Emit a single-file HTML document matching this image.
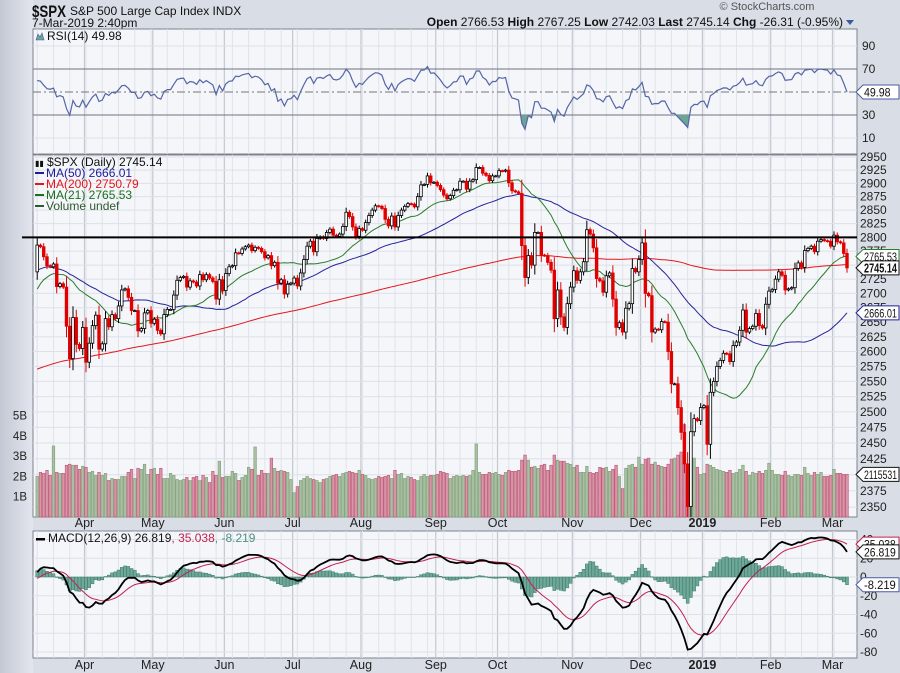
<!DOCTYPE html>
<html><head><meta charset="utf-8"><style>
html,body{margin:0;padding:0;background:#d9dde6;}
svg{display:block;font-family:"Liberation Sans",sans-serif;}
</style></head><body>
<svg id="chart" width="900" height="673" viewBox="0 0 900 673" xmlns="http://www.w3.org/2000/svg">
<defs>
<linearGradient id="gut" x1="0" x2="1"><stop offset="0" stop-color="#c3c8d4"/><stop offset="1" stop-color="#e3e6ee"/></linearGradient>
<clipPath id="cpPrice"><rect x="33" y="155" width="824" height="362"/></clipPath>
<clipPath id="cpRsi"><rect x="33" y="29" width="824" height="125"/></clipPath>
<clipPath id="cpMacd"><rect x="33" y="531" width="824" height="127"/></clipPath>
<clipPath id="cpLow"><rect x="33" y="115" width="824" height="40"/></clipPath>
<clipPath id="cpHigh"><rect x="33" y="29" width="824" height="40"/></clipPath>
</defs>
<rect x="0" y="0" width="900" height="673" fill="#d9dde6"/>
<rect x="0" y="0" width="33" height="673" fill="url(#gut)"/>
<g>
<text x="32" y="17" font-size="17" font-weight="bold" fill="#111" textLength="34" lengthAdjust="spacingAndGlyphs">$SPX</text>
<text x="70" y="15" font-size="12" fill="#111">S&amp;P 500 Large Cap Index  INDX</text>
<text x="32" y="27" font-size="12" fill="#111">7-Mar-2019 2:40pm</text>
<text x="767" y="10" font-size="11" fill="#555" text-anchor="middle">© StockCharts.com</text>
<text x="843" y="26" font-size="12" fill="#111" text-anchor="end"><tspan font-weight="bold">Open</tspan> 2766.53  <tspan font-weight="bold">High</tspan> 2767.25  <tspan font-weight="bold">Low</tspan> 2742.03  <tspan font-weight="bold">Last</tspan> 2745.14  <tspan font-weight="bold">Chg</tspan> -26.31 (-0.95%)</text>
<polygon points="846,20 854,20 850,25" fill="#3a5a9a"/>
</g>
<rect x="33" y="29" width="824" height="125" fill="#f4f6fa" stroke="#7d828d"/>
<rect x="33" y="155" width="824" height="362" fill="#f4f6fa" stroke="#7d828d"/>
<rect x="33" y="531" width="824" height="127" fill="#f4f6fa" stroke="#7d828d"/>
<g id="grid"></g><g id="marks"></g><g id="labels"></g>
</svg>
<script>
// ---- data ----
const months = ["Mar","Apr","May","Jun","Jul","Aug","Sep","Oct","Nov","Dec","2019","Feb","Mar"];
const closeMar18 = [2786,2783,2765,2749,2747,2752,2712,2717,2711,2643,2588,2658,2612,2605,2641];
const closeApr18 = [2582,2614,2644,2662,2604,2613,2656,2642,2663,2656,2678,2706,2708,2693,2670,2670,2635,2639,2666,2670,2648];
const closeMay18 = [2655,2636,2630,2663,2672,2672,2697,2723,2728,2730,2711,2722,2720,2713,2733,2724,2733,2727,2721,2690,2724,2705];
const closeJun18 = [2735,2747,2749,2772,2771,2779,2783,2786,2776,2782,2780,2774,2763,2767,2749,2755,2718,2724,2699,2716,2718];
const closeJul18 = [2727,2713,2736,2760,2784,2793,2774,2798,2801,2798,2809,2815,2804,2802,2806,2820,2846,2838,2819,2802,2816];
const closeAug18 = [2813,2827,2840,2850,2858,2857,2853,2833,2821,2839,2819,2840,2850,2857,2862,2861,2856,2875,2897,2898,2914,2901,2902];
const closeSep18 = [2896,2888,2878,2871,2877,2887,2888,2904,2904,2889,2904,2907,2930,2930,2919,2915,2905,2914,2914];
const closeOct18 = [2924,2923,2925,2901,2886,2884,2881,2785,2728,2767,2750,2809,2809,2768,2767,2755,2741,2656,2706,2659,2641,2682,2711];
const closeNov18 = [2740,2723,2738,2756,2814,2806,2781,2726,2722,2702,2731,2736,2690,2641,2649,2633,2674,2682,2744,2738,2760];
const closeDec18 = [2790,2700,2696,2633,2638,2637,2651,2650,2600,2546,2546,2507,2467,2417,2351,2468,2489,2486,2507];
const closeJan19 = [2510,2448,2532,2550,2575,2585,2597,2596,2583,2610,2616,2636,2671,2633,2639,2643,2665,2644,2640,2681,2704];
const closeFeb19 = [2707,2725,2738,2732,2706,2708,2710,2744,2754,2746,2776,2780,2784,2774,2793,2796,2794,2793,2784];
const closeMar19 = [2804,2792,2790,2771,2745];
const volMar18 = [2.0,2.2,2.15,2.3,2.05,3.5,2.2,2.15,2.15,2.55,2.6,2.55,2.55,2.35,2.5];
const volApr18 = [2.45,2.2,2.25,2.05,2.2,2.05,2.15,1.8,1.9,1.85,1.85,2.0,2.0,2.2,2.35,1.9,2.4,2.35,2.6,2.1,2.35];
const volMay18 = [2.4,2.1,2.4,1.9,1.9,2.15,2.05,1.85,1.8,1.85,1.95,1.8,1.95,2.0,1.8,2.05,1.95,1.7,2.25,2.05,2.75,1.95];
const volJun18 = [2.0,2.0,2.25,2.15,1.8,1.95,2.05,2.45,2.35,3.45,2.05,2.3,2.15,2.15,2.9,2.4,2.25,2.3,2.25,2.2,1.85];
const volJul18 = [1.2,1.5,1.8,1.9,2.0,1.9,1.85,1.8,1.7,1.85,1.9,2.0,2.05,2.1,2.0,2.15,2.2,2.25,2.2,2.15,2.3];
const volAug18 = [2.1,2.05,1.9,1.85,1.9,2.0,1.95,2.0,2.05,1.9,2.3,2.1,2.15,1.9,2.0,1.95,1.85,1.8,2.0,2.1,2.0,2.05,2.05];
const volSep18 = [2.1,2.25,2.2,2.15,1.9,2.0,2.05,2.0,2.05,2.0,2.05,2.3,3.6,2.2,2.1,2.1,2.2,2.15,2.2];
const volOct18 = [2.1,2.05,2.2,2.3,2.25,2.25,2.3,2.8,3.05,2.8,2.45,2.5,2.4,2.55,2.6,2.3,2.55,3.05,2.8,2.75,2.75,2.65,2.6];
const volNov18 = [2.45,2.55,2.2,2.2,2.5,2.2,2.15,2.2,2.45,2.4,2.45,2.25,2.35,2.55,2.0,1.4,2.4,2.55,2.6,2.45,2.95];
const volDec18 = [2.6,2.85,2.9,2.6,2.7,2.55,2.5,2.45,2.6,2.85,2.9,3.05,3.2,4.55,1.7,2.55,2.9,2.45,2.1];
const volJan19 = [2.15,2.6,2.55,2.45,2.35,2.3,2.25,2.2,2.3,2.15,2.2,2.35,2.55,2.25,2.05,2.2,2.15,2.25,2.15,2.3,2.65];
const volFeb19 = [2.3,2.1,2.1,2.05,2.25,2.05,2.0,2.1,2.1,2.05,2.45,2.15,2.05,2.2,2.1,2.2,2.0,2.0,2.05];
const volMar19 = [2.35,2.15,2.15,2.1,2.1];
const preMonthlyAvg = [2395,2434,2454,2456,2493,2557,2593,2664,2790];
const preDaily = [2822,2762,2649,2695,2682,2582,2620,2656,2662,2698,2731,2732,2716,2701,2703,2748,2780,2744,2714,2678,2691,2721,2728,2727,2738];
const priceTicks = [2350,2375,2400,2425,2450,2475,2500,2525,2550,2575,2600,2625,2650,2675,2700,2725,2750,2775,2800,2825,2850,2875,2900,2925,2950];
const rsiTicks = [10,30,70,90];
const macdTicks = [-80,-60,-40,-20,0,20,40];
const volTicks = [1,2,3,4,5];
const resistance = 2800;

const closeMonths = [closeMar18,closeApr18,closeMay18,closeJun18,closeJul18,closeAug18,closeSep18,closeOct18,closeNov18,closeDec18,closeJan19,closeFeb19,closeMar19];
const volMonths = [volMar18,volApr18,volMay18,volJun18,volJul18,volAug18,volSep18,volOct18,volNov18,volDec18,volJan19,volFeb19,volMar19];
const closes = [].concat(...closeMonths);
const vols = [].concat(...volMonths);
const monthStart = []; { let k=0; closeMonths.forEach(m=>{monthStart.push(k);k+=m.length;}); }
const pre = [];
preMonthlyAvg.forEach(v=>{for(let j=0;j<21;j++)pre.push(v);});
preDaily.forEach(v=>pre.push(v));
const all = pre.concat(closes), P = pre.length, N = closes.length;

const L=33,R=857;
const step=(834-86)/(monthStart[12]-monthStart[1]);
const x0=86-monthStart[1]*step;
const X=i=>x0+i*step;
const yP=p=>157+1540*Math.log(2950/p);
const yR=v=>92-(v-50)*1.15;
const yV=b=>517-20.3*b;
const yM=v=>577-v*0.9375;

const NS="http://www.w3.org/2000/svg";
function mk(tag,attrs,parent,txt){const e=document.createElementNS(NS,tag);for(const k in attrs)e.setAttribute(k,attrs[k]);if(txt!==undefined)e.textContent=txt;document.getElementById(parent).appendChild(e);return e;}

function sma(n,i){let s=0;for(let j=i-n+1;j<=i;j++)s+=all[j];return s/n;}
function ema(arr,n){const k=2/(n+1);const out=[arr[0]];for(let i=1;i<arr.length;i++)out.push(arr[i]*k+out[i-1]*(1-k));return out;}
const e12=ema(all,12),e26=ema(all,26);
const macd=all.map((v,i)=>e12[i]-e26[i]);
const sig=ema(macd,9);
const rsi=[];{let ag=0,al=0;for(let i=1;i<all.length;i++){const d=all[i]-all[i-1];const g=Math.max(d,0),l=Math.max(-d,0);if(i<=14){ag+=g/14;al+=l/14;}else{ag=(ag*13+g)/14;al=(al*13+l)/14;}rsi[i]=al===0?100:100-100/(1+ag/al);}}

for(let i=0;i<N;i+=5){
  for(const [a,b] of [[29,154],[155,517],[531,658]]){
    const ln=mk('line',{x1:X(i),x2:X(i),y1:a,y2:b,stroke:'#e0e3ea','stroke-width':1},'grid');
    
    
  }
}
monthStart.forEach((s,m)=>{
  if(m===0)return;
  for(const [a,b] of [[29,154],[155,517],[531,658]]){
    const ln=mk('line',{x1:X(s)-1.5,x2:X(s)-1.5,y1:a,y2:b,stroke:'#c3c7d0','stroke-width':1.2},'grid');
    
    
  }
  for(const yy of [527,669]){
    const t=mk('text',{x:X(s)-1.5,y:yy,'font-size':12.5,'text-anchor':'middle',fill:'#222','font-weight':months[m]==='2019'?'bold':'normal'},'labels',months[m]);
    
    
  }
});
priceTicks.forEach(p=>{
  const y=yP(p);
  const g=mk('line',{x1:L,x2:R,y1:y,y2:y,stroke:'#dde0e7'},'grid');
  
  
  const t=mk('text',{x:860,y:y+4,'font-size':12,fill:'#222'},'labels',p);
  
  
});
volTicks.forEach(b=>{
  const t=mk('text',{x:27,y:yV(b)+4,'font-size':11.5,fill:'#222','text-anchor':'end'},'labels',b+'B');
  
  
});
[10,30,50,70,90].forEach(v=>{
  const y=yR(v);
  const strong=(v===30||v===70);
  const g=mk('line',{x1:L,x2:R,y1:y,y2:y,stroke:strong?'#6e7380':(v===50?'#777':'#dde0e7'),'stroke-dasharray':v===50?'8,3,2,3':'none'},'grid');
  
  
});
rsiTicks.forEach(v=>{
  const t=mk('text',{x:862,y:yR(v)+4,'font-size':12,fill:'#222'},'labels',v);
  
  
});
macdTicks.forEach(v=>{
  const y=yM(v);
  const g=mk('line',{x1:L,x2:R,y1:y,y2:y,stroke:'#dde0e7'},'grid');
  
  
  const t=mk('text',{x:860,y:y+4,'font-size':12,fill:'#222'},'labels',v);
  
  
});

for(let i=0;i<N;i++){
  const prev=i?closes[i-1]:all[P-1];
  const down=closes[i]<prev;
  const v=vols[i]||2;
  const r=mk('rect',{x:X(i)-1.3,y:yV(v),width:2.6,height:517-yV(v),fill:down?'#d597a8':'#a9bfa3',stroke:down?'#c05474':'#80a078','stroke-width':0.6},'marks');
  
  
}

function maPath(n){let d='';for(let i=0;i<N;i++){d+=(i?'L':'M')+X(i).toFixed(1)+','+yP(sma(n,P+i)).toFixed(1);}return d;}
[[200,'#e3161c','ma200-line'],[50,'#23239a','ma50-line'],[21,'#2a7d2a','ma21-line']].forEach(([n,c,nm])=>{
  const p=mk('path',{d:maPath(n),fill:'none',stroke:c,'stroke-width':1,'clip-path':'url(#cpPrice)'},'marks');
  
  
});

for(let i=0;i<N;i++){
  const c=closes[i],o=i?closes[i-1]:all[P-1];
  const down=c<o;
  const ext=2+0.25*Math.abs(c-o);
  const hi=Math.max(o,c)+ext,lo=Math.min(o,c)-ext;
  const col=down?'#e00000':'#000';
  const w=mk('line',{x1:X(i),x2:X(i),y1:yP(hi),y2:yP(lo),stroke:col,'stroke-width':1,'clip-path':'url(#cpPrice)'},'marks');
  
  
  const yt=yP(Math.max(o,c)),yb=yP(Math.min(o,c));
  const b=mk('rect',{x:X(i)-1.3,y:yt,width:2.6,height:Math.max(yb-yt,1),fill:down?col:'#fff',stroke:col,'stroke-width':0.8,'clip-path':'url(#cpPrice)'},'marks');
  
  
}
const res=mk('line',{x1:22,x2:R,y1:yP(resistance),y2:yP(resistance),stroke:'#000','stroke-width':2},'marks');



{let d='';for(let i=0;i<N;i++)d+=(i?'L':'M')+X(i).toFixed(1)+','+yR(rsi[P+i]).toFixed(1);
 const fl=d+'L'+X(N-1)+','+yR(30)+'L'+X(0)+','+yR(30)+'Z';
 const fh=d+'L'+X(N-1)+','+yR(70)+'L'+X(0)+','+yR(70)+'Z';
 const a=mk('path',{d:fl,fill:'#6aa595',stroke:'none','clip-path':'url(#cpLow)'},'marks');
 
 
 const b=mk('path',{d:fh,fill:'#6aa595',stroke:'none','clip-path':'url(#cpHigh)'},'marks');
 
 
 const l=mk('path',{d:d,fill:'none',stroke:'#5565a5','stroke-width':1.2,'clip-path':'url(#cpRsi)'},'marks');
 
 
}

for(let i=0;i<N;i++){
  const h=macd[P+i]-sig[P+i];
  const y1=Math.min(yM(h),yM(0)),y2=Math.max(yM(h),yM(0));
  const r=mk('rect',{x:X(i)-1.5,y:y1,width:3,height:Math.max(y2-y1,0.5),fill:'#6fa898',stroke:'#3e7c6b','stroke-width':0.5,'clip-path':'url(#cpMacd)'},'marks');
  
  
}
{let d1='',d2='';for(let i=0;i<N;i++){d1+=(i?'L':'M')+X(i).toFixed(1)+','+yM(macd[P+i]).toFixed(1);d2+=(i?'L':'M')+X(i).toFixed(1)+','+yM(sig[P+i]).toFixed(1);}
 const s=mk('path',{d:d2,fill:'none',stroke:'#c4204c','stroke-width':1,'clip-path':'url(#cpMacd)'},'marks');
 
 
 const m=mk('path',{d:d1,fill:'none',stroke:'#000','stroke-width':1.8,'clip-path':'url(#cpMacd)'},'marks');
 
 
}

function tag(y,txt,stroke,bold,name){
  const g=mk('polygon',{points:`856,${y} 863,${y-7} 899,${y-7} 899,${y+7} 863,${y+7}`,fill:'#fff',stroke:stroke,'stroke-width':1},'labels');
  
  
  const t=mk('text',{x:864,y:y+4.5,'font-size':bold?13:12,'font-weight':bold?'bold':'normal',fill:'#111',textLength:Math.min(33,txt.length*5.3),lengthAdjust:'spacingAndGlyphs'},'labels',txt);
  
  
}
tag(yR(49.98),'49.98','#4a5aa0',false,'rsi-value-tag');
tag(yP(2765.53),'2765.53','#2a7d2a',false,'ma21-value-tag');
tag(yP(2745.14),'2745.14','#111',true,'last-price-tag');
tag(yP(2666.01),'2666.01','#23239a',false,'ma50-value-tag');
tag(yV(2.1),'2115531','#111',false,'volume-value-tag');
tag(yM(35.038),'35.038','#c4204c',false,'signal-value-tag');
tag(yM(26.819),'26.819','#111',false,'macd-value-tag');
tag(yM(-8.219),'-8.219','#4a5aa0',false,'histogram-value-tag');

function txt(x,y,s,fill,name,size){const t=mk('text',{x:x,y:y,'font-size':size||11,fill:fill},'labels',s);return t;}
txt(47,40,'RSI(14) 49.98','#111','rsi-legend',12);
const ri=mk('polygon',{points:'36,40 38,34 40,37 42,33 44,40',fill:'#6aa595',stroke:'#4a5aa0','stroke-width':0.6},'labels');


txt(47,166,'$SPX (Daily) 2745.14','#111','price-legend',12);
txt(35,166,'▮▮','#111','price-legend-icon',8);
[['MA(50) 2666.01','#1c1c9c',177,'ma50-legend'],['MA(200) 2750.79','#e3161c',188,'ma200-legend'],['MA(21) 2765.53','#1d6e1d',199,'ma21-legend'],['Volume undef','#2d5a2d',210,'volume-legend']].forEach(([s,c,y,n])=>{
  const ln=mk('rect',{x:35,y:y-5,width:9,height:2,fill:c},'labels');
  
  
  txt(46,y,s,c,n,12);
});
const ml=mk('rect',{x:36,y:538,width:9,height:2.5,fill:'#000'},'labels');


const mt=txt(48,542,'','#111','macd-legend',12);
mt.innerHTML='MACD(12,26,9) 26.819<tspan fill="#c4204c">, 35.038</tspan><tspan fill="#4c9080">, -8.219</tspan>';
</script>
</body></html>
